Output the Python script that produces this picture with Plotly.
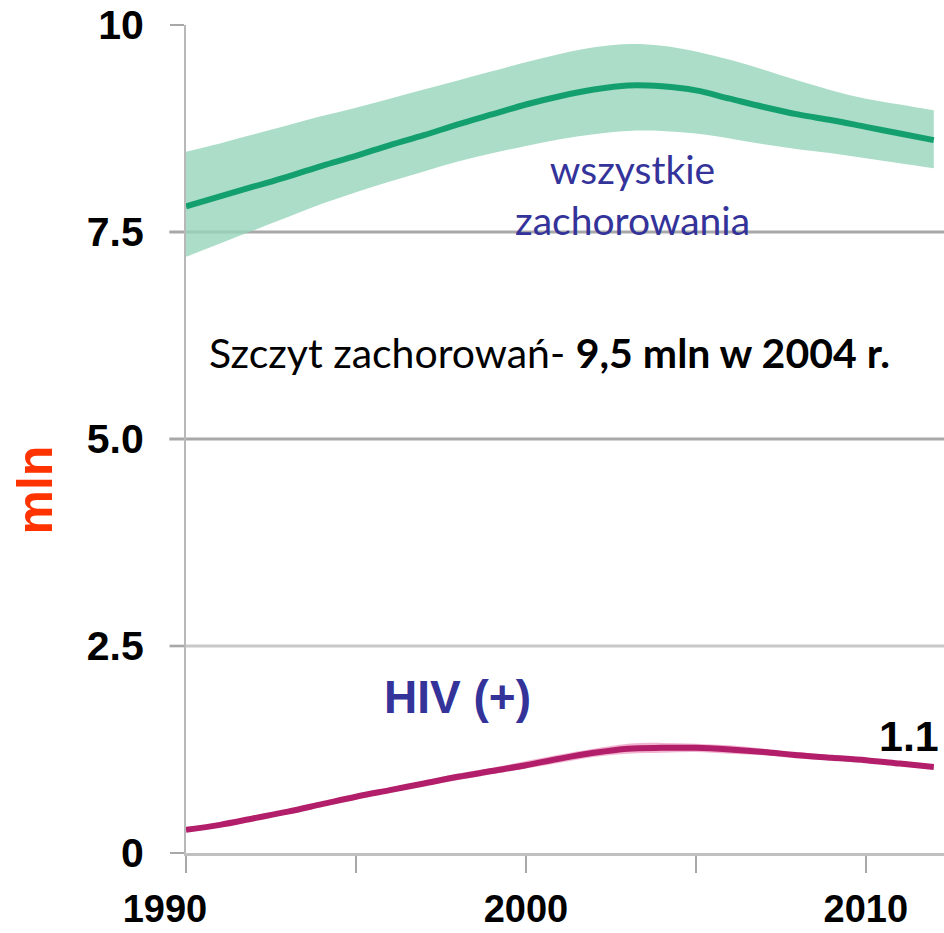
import plotly.graph_objects as go

years = list(range(1990, 2013))
all_cases = [7.81, 7.93, 8.05, 8.17, 8.30, 8.42, 8.55, 8.67, 8.80, 8.92, 9.04, 9.14,
             9.22, 9.27, 9.26, 9.21, 9.11, 9.01, 8.92, 8.85, 8.77, 8.69, 8.61]
all_upper = [8.47, 8.57, 8.68, 8.79, 8.90, 9.00, 9.11, 9.22, 9.33, 9.44, 9.55, 9.65,
             9.73, 9.77, 9.75, 9.68, 9.58, 9.46, 9.33, 9.21, 9.11, 9.04, 8.97]
all_lower = [7.20, 7.36, 7.52, 7.68, 7.84, 7.98, 8.11, 8.23, 8.35, 8.45, 8.54, 8.62,
             8.68, 8.72, 8.72, 8.69, 8.63, 8.56, 8.50, 8.45, 8.39, 8.33, 8.27]
hiv = [0.28, 0.34, 0.42, 0.50, 0.59, 0.68, 0.76, 0.84, 0.92, 0.99, 1.06, 1.14,
       1.21, 1.26, 1.27, 1.27, 1.25, 1.22, 1.18, 1.15, 1.12, 1.08, 1.04]
hiv_upper = [0.30, 0.36, 0.44, 0.52, 0.61, 0.71, 0.79, 0.87, 0.96, 1.03, 1.11, 1.19,
             1.26, 1.32, 1.33, 1.32, 1.30, 1.26, 1.22, 1.18, 1.15, 1.11, 1.07]
hiv_lower = [0.26, 0.32, 0.40, 0.48, 0.57, 0.65, 0.73, 0.81, 0.88, 0.95, 1.02, 1.09,
             1.16, 1.20, 1.21, 1.22, 1.20, 1.18, 1.14, 1.12, 1.09, 1.05, 1.01]

x_tick_vals = [1990, 1995, 2000, 2005, 2010]
x_tick_text = ["1990" + "\u00a0" * 4, "", "2000", "", "2010"]
y_tick_vals = [0, 2.5, 5.0, 7.5, 10]
y_tick_text = ["0", "2.5", "5.0", "7.5", "10"]
grid_levels = [2.5, 5.0, 7.5]
grid_colors = ["#C8C8C8", "#A8A8A8", "#A8A8A8"]

GREEN = "rgb(20,160,110)"
GREEN_BAND = "rgba(150,212,186,0.8)"
MAGENTA = "rgb(178,30,105)"
PINK_BAND = "rgba(235,150,190,0.7)"
INDIGO = "#33339A"

fig = go.Figure()
fig.add_trace(go.Scatter(x=years, y=all_lower, mode="lines", line=dict(width=0),
                         line_shape="spline", hoverinfo="skip", showlegend=False))
fig.add_trace(go.Scatter(x=years, y=all_upper, mode="lines", line=dict(width=0),
                         line_shape="spline", fill="tonexty", fillcolor=GREEN_BAND,
                         hoverinfo="skip", showlegend=False))
fig.add_trace(go.Scatter(x=years, y=all_cases, mode="lines", line=dict(color=GREEN, width=6),
                         line_shape="spline", showlegend=False))
fig.add_trace(go.Scatter(x=years, y=hiv_lower, mode="lines", line=dict(width=0),
                         line_shape="spline", hoverinfo="skip", showlegend=False))
fig.add_trace(go.Scatter(x=years, y=hiv_upper, mode="lines", line=dict(width=0),
                         line_shape="spline", fill="tonexty", fillcolor=PINK_BAND,
                         hoverinfo="skip", showlegend=False))
fig.add_trace(go.Scatter(x=years, y=hiv, mode="lines", line=dict(color=MAGENTA, width=6),
                         line_shape="spline", showlegend=False))

for lvl, col in zip(grid_levels, grid_colors):
    fig.add_shape(type="line", xref="paper", x0=-0.022, x1=1, yref="y", y0=lvl, y1=lvl,
                  line=dict(color=col, width=3), layer="below")

fig.update_layout(
    width=944, height=933,
    margin=dict(l=186, r=0, t=25, b=80),
    plot_bgcolor="white", paper_bgcolor="white",
    xaxis=dict(range=[1990, 2012.3], tickvals=x_tick_vals, ticktext=x_tick_text,
               showgrid=False, zeroline=False, showline=True, linecolor="#C0C0C0", linewidth=3,
               ticks="outside", ticklen=17, tickwidth=2, tickcolor="#A8A8A8",
               ticklabelstandoff=3, automargin=False,
               tickfont=dict(family="Liberation Sans", size=38, color="black", weight="bold")),
    yaxis=dict(range=[0, 10], tickvals=y_tick_vals, ticktext=y_tick_text,
               showgrid=False, zeroline=False, showline=True, linecolor="#B8B8B8", linewidth=2,
               ticks="outside", ticklen=14, tickwidth=2, tickcolor="#A8A8A8",
               ticklabelstandoff=18, automargin=False,
               tickfont=dict(family="Liberation Sans", size=41, color="black", weight="bold")),
    annotations=[
        dict(x=2003.15, y=7.95, xref="x", yref="y", text="wszystkie<br>zachorowania",
             showarrow=False, font=dict(family="Lato", size=39, color=INDIGO)),
        dict(x=2000.7, y=6.05, xref="x", yref="y",
             text="Szczyt zachorowań- <b>9,5 mln w 2004 r.</b>",
             showarrow=False, font=dict(family="Lato", size=41, color="black")),
        dict(x=1998.0, y=1.88, xref="x", yref="y", text="<b>HIV (+)</b>",
             showarrow=False, font=dict(family="Liberation Sans", size=46, color=INDIGO)),
        dict(x=2010.33, y=1.41, xref="x", yref="y", text="<b>1.1</b>", xanchor="left",
             showarrow=False, font=dict(family="Liberation Sans", size=43, color="black")),
        dict(x=-0.199, y=0.438, xref="paper", yref="paper", text="<b>mln</b>", textangle=-90,
             xanchor="center", yanchor="middle",
             showarrow=False, font=dict(family="Liberation Sans", size=50, color="#FF3300")),
    ],
)

fig.write_html("out.html", config={"displayModeBar": False},
               post_script="document.body.style.margin='0';document.body.style.overflow='hidden';")
